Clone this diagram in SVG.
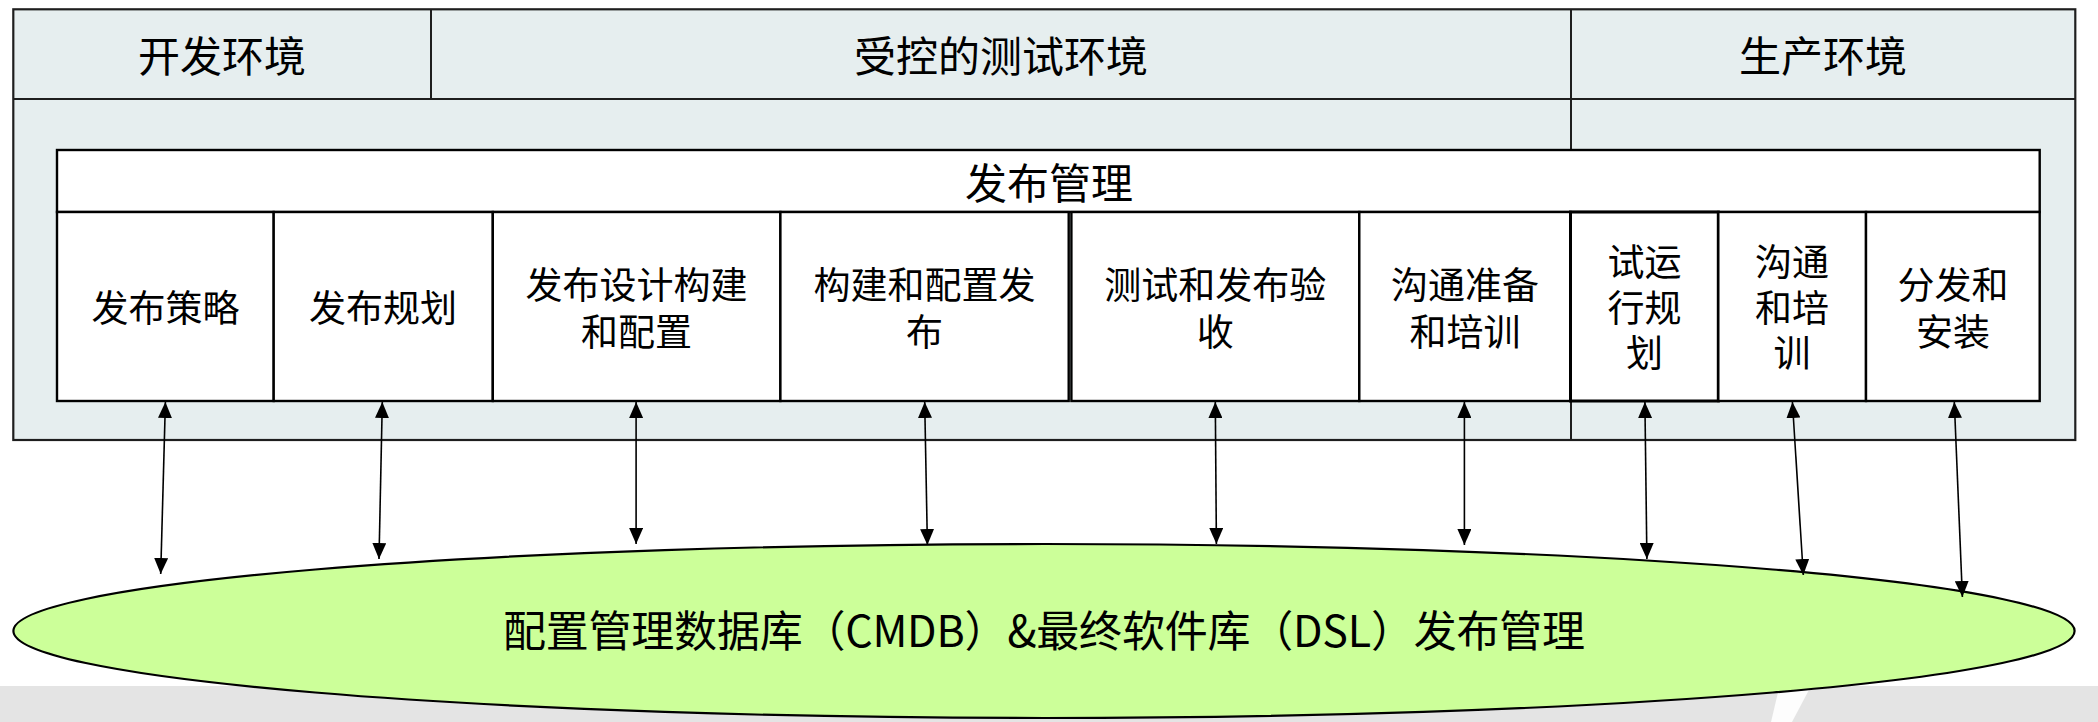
<svg xmlns="http://www.w3.org/2000/svg" width="2098" height="722" viewBox="0 0 2098 722">
<defs>
<style>
.env{fill:#E6EEEF;stroke:#1e1e1e;stroke-width:2.2}
.ln{stroke:#1e1e1e;stroke-width:2;fill:none}
.box{fill:#FFFFFF;stroke:#000;stroke-width:2.4}
.t{font-family:"Noto Sans CJK SC","Microsoft YaHei",sans-serif;fill:#000;text-anchor:middle}
.h{font-size:42px}
.c{font-size:37px}
.b{font-size:43px}
.arr{stroke:#000;stroke-width:1.6;fill:none;marker-start:url(#ah);marker-end:url(#ah)}
</style>
<marker id="ah" viewBox="0 0 16 14" refX="16" refY="7" markerWidth="16" markerHeight="14" markerUnits="userSpaceOnUse" orient="auto-start-reverse">
<path d="M0,0 L16,7 L0,14 Z" fill="#000"/>
</marker>
</defs>
<rect x="0" y="686" width="2098" height="36" fill="#E4E4E4"/>
<polygon points="1779,688 1810,688 1792,722 1771,722" fill="#FFFFFF" opacity="0.9"/>
<g id="environments">
<rect class="env" x="13.3" y="9.3" width="2062" height="430.7"/>
<line class="ln" x1="13.3" y1="99" x2="2075.3" y2="99"/>
<line class="ln" x1="431" y1="9.3" x2="431" y2="99"/>
<line class="ln" x1="1571" y1="9.3" x2="1571" y2="440"/>
<text class="t h" x="222" y="72">开发环境</text>
<text class="t h" x="1001" y="72">受控的测试环境</text>
<text class="t h" x="1823" y="72">生产环境</text>
</g>
<g id="release-management">
<rect class="box" x="57" y="150" width="1982.7" height="62"/>
<text class="t h" x="1049" y="199">发布管理</text>
</g>
<g id="n1"><rect class="box" x="57" y="212" width="216.7" height="189"/><text class="t c" x="165.5" y="322">发布策略</text></g>
<g id="n2"><rect class="box" x="273.7" y="212" width="219.1" height="189"/><text class="t c" x="383" y="322">发布规划</text></g>
<g id="n3"><rect class="box" x="492.8" y="212" width="287.6" height="189"/><text class="t c" y="299"><tspan x="636.6">发布设计构建</tspan><tspan x="636.6" dy="47">和配置</tspan></text></g>
<g id="n4"><rect class="box" x="780.4" y="212" width="288.3" height="189"/><text class="t c" y="299"><tspan x="924.5">构建和配置发</tspan><tspan x="924.5" dy="47">布</tspan></text></g>
<g id="n5"><rect class="box" x="1071.4" y="212" width="287.9" height="189"/><text class="t c" y="299"><tspan x="1215.3">测试和发布验</tspan><tspan x="1215.3" dy="47">收</tspan></text></g>
<g id="n6"><rect class="box" x="1359.3" y="212" width="211.2" height="189"/><text class="t c" y="299"><tspan x="1465">沟通准备</tspan><tspan x="1465" dy="47">和培训</tspan></text></g>
<g id="n7"><rect class="box" x="1570.5" y="212" width="147.8" height="189" style="stroke-width:3"/><text class="t c" y="276"><tspan x="1644.5">试运</tspan><tspan x="1644.5" dy="46">行规</tspan><tspan x="1644.5" dy="45">划</tspan></text></g>
<g id="n8"><rect class="box" x="1718.3" y="212" width="147.7" height="189"/><text class="t c" y="276"><tspan x="1792">沟通</tspan><tspan x="1792" dy="46">和培</tspan><tspan x="1792" dy="45">训</tspan></text></g>
<g id="n9"><rect class="box" x="1866" y="212" width="173.7" height="189"/><text class="t c" y="299"><tspan x="1953">分发和</tspan><tspan x="1953" dy="47">安装</tspan></text></g>
<g id="cmdb">
<ellipse cx="1044" cy="631" rx="1030.6" ry="87" fill="#CCFF99" stroke="#000" stroke-width="2.2"/>
<text class="t b" x="1044" y="647" textLength="1082" lengthAdjust="spacing">配置管理数据库（CMDB）&amp;最终软件库（DSL）发布管理</text>
</g>
<g id="connectors">
<line class="arr" x1="160.7" y1="574" x2="165.4" y2="402"/>
<line class="arr" x1="379" y1="559" x2="382.3" y2="402"/>
<line class="arr" x1="636.1" y1="544" x2="636.1" y2="402"/>
<line class="arr" x1="927.4" y1="545" x2="924.7" y2="402"/>
<line class="arr" x1="1216.4" y1="544" x2="1215.3" y2="402"/>
<line class="arr" x1="1464.4" y1="545" x2="1464.4" y2="402"/>
<line class="arr" x1="1646.9" y1="559" x2="1644.9" y2="402"/>
<line class="arr" x1="1803.3" y1="575" x2="1792.4" y2="402"/>
<line class="arr" x1="1962.4" y1="597" x2="1954.3" y2="402"/>
</g>
</svg>
